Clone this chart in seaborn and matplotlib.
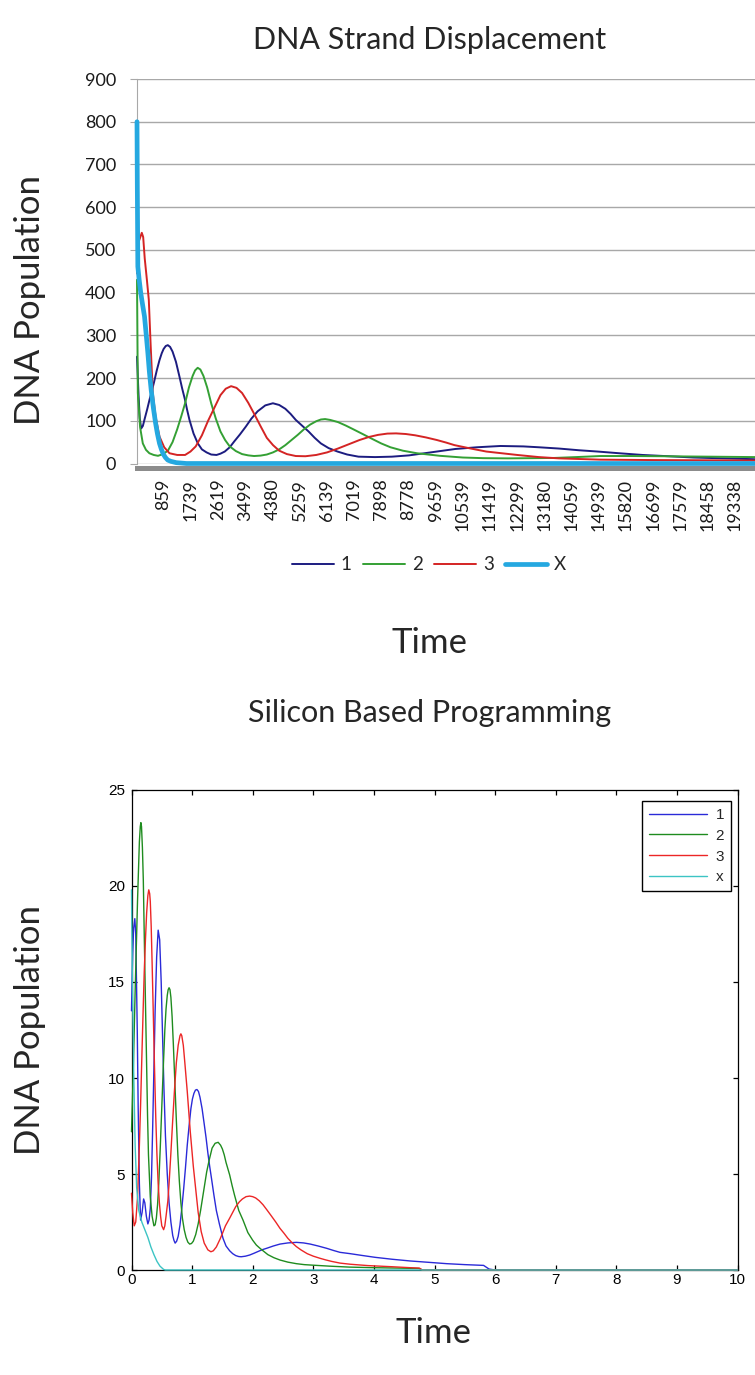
import matplotlib
matplotlib.use("Agg")
import matplotlib.pyplot as plt
import seaborn as sns

# ---------------- DNA strand displacement run (sampled populations) ----------------
dna_time_1 = [0, 50, 90, 136, 190, 250, 330, 404, 480, 550, 640, 728, 800, 860, 930, 997, 1070,
              1150, 1260, 1375, 1460, 1550, 1620, 1698, 1830, 1968, 2100, 2250, 2400, 2572,
              2700, 2840, 3000, 3150, 3330, 3517, 3700, 3900, 4150, 4397, 4600, 4800, 4970,
              5137, 5350, 5550, 5750, 5949, 6200, 6486, 6800, 7166, 7700, 8246, 8800, 9300,
              9800, 10300, 11000, 11760, 12500, 13000, 13653, 14300, 14900, 15600, 16353,
              17200, 18000, 19000, 20000]
dna_pop_1 = [250, 160, 105, 82, 88, 105, 127, 149, 170, 190, 218, 242, 258, 268, 275, 277, 273,
             262, 238, 203, 176, 150, 126, 102, 70, 47, 33, 26, 21, 20,
             23, 28, 38, 52, 68, 86, 105, 122, 136, 141, 137, 128, 116,
             102, 88, 75, 60, 47, 36, 28, 21, 16, 15, 16, 19, 24,
             29, 34, 38, 41, 40, 38, 35, 31, 28, 24, 20,
             17, 14, 12, 10]

dna_time_2 = [0, 27, 100, 188, 290, 400, 540, 680, 840, 1000, 1150, 1300, 1430, 1556, 1680,
              1800, 1880, 1963, 2050, 2150, 2270, 2400, 2550, 2700, 2850, 3000, 3200, 3400,
              3600, 3788, 4000, 4200, 4400, 4600, 4800, 5000, 5200, 5400, 5600, 5800, 5950,
              6085, 6250, 6500, 6750, 7000, 7300, 7570, 7900, 8200, 8600, 9058, 9800, 10543,
              11200, 12000, 12800, 13500, 14200, 14995, 16000, 17000, 18500, 20000]
dna_pop_2 = [430, 165, 85, 47, 32, 24, 20, 18, 22, 30, 50, 80, 110, 141, 178,
             205, 218, 224, 220, 205, 178, 141, 105, 75, 55, 40, 29, 22,
             19, 17.5, 18.5, 21, 26, 33, 43, 55, 67, 80, 91, 99, 103,
             104, 102, 97, 89, 80, 69, 59, 47, 38, 30, 24, 18, 14,
             12.5, 12, 12.5, 13, 15, 17.5, 17.5, 17, 16, 15]

dna_time_3 = [0, 60, 155, 200, 250, 320, 382, 440, 511, 600, 728, 880, 1051, 1300, 1556, 1730,
              1900, 2100, 2300, 2500, 2700, 2870, 3044, 3220, 3400, 3600, 3800, 4000, 4200,
              4400, 4600, 4850, 5137, 5450, 5800, 6150, 6500, 6850, 7200, 7500, 7800, 8100,
              8382, 8700, 9000, 9350, 9700, 10000, 10271, 10800, 11300, 11800, 12300, 13000,
              13652, 15000, 16760, 18500, 20000]
dna_pop_3 = [445, 520, 540, 530, 480, 430, 383, 280, 165, 110, 63, 38, 24, 20, 20, 28,
             40, 66, 100, 130, 160, 175, 181, 177, 165, 142, 115, 87, 60,
             43, 30, 22, 17.5, 17, 20, 26, 35, 45, 55, 62, 67, 70,
             70.5, 69, 66, 61, 55, 49, 43, 35, 28, 24, 20, 15,
             12, 9, 8, 7.5, 7]

dna_time_x = [0, 10, 27, 70, 120, 180, 243, 300, 350, 400, 459, 530, 600, 660, 728, 790, 850,
              920, 996, 1100, 1268, 1600, 2500, 20000]
dna_pop_x = [800, 650, 461, 430, 400, 372, 344, 300, 260, 215, 172, 130, 95, 70, 47, 33, 22,
             14, 8, 5, 2, 0, 0, 0]

dna_xticks = [859, 1739, 2619, 3499, 4380, 5259, 6139, 7019, 7898, 8778, 9659, 10539,
              11419, 12299, 13180, 14059, 14939, 15820, 16699, 17579, 18458, 19338]
dna_yticks = [0, 100, 200, 300, 400, 500, 600, 700, 800, 900]
dna_names = ["1", "2", "3", "X"]

# ---------------- silicon-based program run (sampled populations) ----------------
sil_time_1 = [0, 0.01, 0.02, 0.035, 0.055, 0.07, 0.08, 0.095, 0.11, 0.13, 0.15, 0.175, 0.2,
              0.22, 0.245, 0.27, 0.29, 0.31, 0.33, 0.35, 0.37, 0.39, 0.415, 0.44, 0.465, 0.49,
              0.51, 0.535, 0.56, 0.59, 0.62, 0.65, 0.68, 0.7, 0.72, 0.745, 0.77, 0.8, 0.83,
              0.86, 0.89, 0.92, 0.95, 0.98, 1.005, 1.03, 1.055, 1.08, 1.105, 1.13, 1.165, 1.2,
              1.23, 1.26, 1.29, 1.32, 1.36, 1.4, 1.45, 1.51, 1.56, 1.62, 1.67, 1.72, 1.77,
              1.81, 1.88, 1.95, 2.02, 2.1, 2.16, 2.23, 2.34, 2.45, 2.58, 2.72, 2.84, 2.95,
              3.08, 3.22, 3.33, 3.44, 3.61, 3.8, 4.02, 4.3, 4.6, 4.99, 5.2, 5.5, 5.81, 5.9,
              6.0, 10.0]
sil_pop_1 = [13.5, 15.2, 16.5, 17.8, 18.3, 17.5, 15.5, 12.5, 8.5, 4.5, 2.6, 3.0, 3.7,
             3.5, 2.8, 2.4, 2.6, 3.2, 4.8, 7.5, 10.5, 13.5, 16.3, 17.7, 17.2, 15.0,
             12.5, 9.5, 7.0, 5.0, 3.5, 2.5, 1.8, 1.55, 1.4, 1.5, 1.75, 2.34, 3.2,
             4.2, 5.3, 6.5, 7.5, 8.4, 8.9, 9.2, 9.37, 9.4, 9.3, 9.0, 8.4, 7.6,
             6.9, 6.1, 5.4, 4.77, 3.9, 3.1, 2.4, 1.65, 1.25, 1.0, 0.85, 0.75, 0.7,
             0.69, 0.72, 0.78, 0.87, 0.98, 1.06, 1.13, 1.25, 1.35, 1.41, 1.44, 1.41, 1.35,
             1.25, 1.13, 1.02, 0.92, 0.85, 0.76, 0.66, 0.56, 0.47, 0.38, 0.33, 0.28, 0.24, 0.05,
             0.0, 0.0]

sil_time_2 = [0, 0.03, 0.06, 0.1, 0.13, 0.145, 0.155, 0.165, 0.18, 0.195, 0.21, 0.23, 0.25,
              0.265, 0.28, 0.31, 0.34, 0.37, 0.39, 0.41, 0.43, 0.45, 0.475, 0.5, 0.525, 0.55,
              0.57, 0.59, 0.605, 0.62, 0.635, 0.65, 0.67, 0.69, 0.715, 0.74, 0.765, 0.79,
              0.815, 0.84, 0.87, 0.9, 0.93, 0.96, 0.99, 1.02, 1.06, 1.1, 1.14, 1.18, 1.21,
              1.24, 1.28, 1.33, 1.38, 1.43, 1.47, 1.5, 1.53, 1.56, 1.62, 1.66, 1.7, 1.77,
              1.84, 1.92, 2.0, 2.06, 2.12, 2.25, 2.35, 2.45, 2.58, 2.72, 2.85, 3.0, 3.27,
              3.6, 4.0, 4.4, 4.74, 4.8, 10.0]
sil_pop_2 = [7.2, 10.5, 14.5, 19.3, 22.3, 23.1, 23.3, 23.1, 22.0, 20.3, 17.5, 14.0, 10.6,
             8.0, 6.0, 3.8, 2.8, 2.3, 2.35, 2.7, 3.4, 4.5, 6.4, 8.5, 10.6, 12.5,
             13.6, 14.3, 14.6, 14.7, 14.6, 14.2, 13.2, 11.8, 9.8, 7.8, 6.0, 4.6,
             3.5, 2.7, 2.1, 1.7, 1.45, 1.35, 1.38, 1.5, 1.85, 2.4, 3.1, 3.9, 4.5,
             5.1, 5.7, 6.35, 6.6, 6.65, 6.5, 6.3, 6.0, 5.6, 4.95, 4.4, 3.9, 3.1,
             2.6, 1.95, 1.55, 1.3, 1.13, 0.8, 0.64, 0.52, 0.41, 0.33, 0.28, 0.25, 0.2,
             0.15, 0.12, 0.1, 0.08, 0.0, 0.0]

sil_time_3 = [0, 0.02, 0.045, 0.07, 0.1, 0.13, 0.15, 0.17, 0.19, 0.21, 0.23, 0.25, 0.27,
              0.285, 0.3, 0.31, 0.325, 0.34, 0.36, 0.38, 0.4, 0.42, 0.44, 0.46, 0.48, 0.5,
              0.53, 0.55, 0.57, 0.6, 0.62, 0.65, 0.68, 0.71, 0.74, 0.77, 0.8, 0.815, 0.83,
              0.855, 0.88, 0.92, 0.97, 1.02, 1.07, 1.1, 1.15, 1.2, 1.26, 1.31, 1.35, 1.4,
              1.46, 1.5, 1.55, 1.62, 1.67, 1.72, 1.78, 1.83, 1.89, 1.95, 2.0, 2.05, 2.11,
              2.17, 2.23, 2.3, 2.38, 2.45, 2.52, 2.58, 2.65, 2.72, 2.8, 2.9, 3.0, 3.11, 3.2,
              3.3, 3.44, 3.61, 3.9, 4.3, 4.6, 4.75, 4.8, 10.0]
sil_pop_3 = [4.0, 3.0, 2.3, 2.5, 3.8, 6.5, 8.6, 11.0, 13.3, 15.5, 17.2, 18.6, 19.5,
             19.8, 19.6, 19.2, 17.9, 16.0, 13.3, 10.5, 8.0, 6.0, 4.5, 3.5, 2.8, 2.3,
             2.1, 2.3, 2.8, 3.6, 4.5, 6.1, 7.8, 9.4, 10.8, 11.7, 12.2, 12.3, 12.2,
             11.7, 10.8, 9.3, 7.2, 5.4, 3.9, 3.0, 2.0, 1.4, 1.05, 0.95, 1.0, 1.2,
             1.6, 1.9, 2.3, 2.7, 3.0, 3.3, 3.55, 3.7, 3.82, 3.85, 3.82, 3.75, 3.6,
             3.4, 3.15, 2.85, 2.5, 2.17, 1.9, 1.65, 1.42, 1.22, 1.04, 0.85, 0.72, 0.61, 0.53,
             0.45, 0.36, 0.3, 0.23, 0.17, 0.12, 0.1, 0.0, 0.0]

sil_time_x = [0, 0.005, 0.015, 0.035, 0.06, 0.085, 0.12, 0.17, 0.22, 0.27, 0.32,
              0.37, 0.42, 0.47, 0.53, 0.56, 10.0]
sil_pop_x = [19.8, 18.0, 15.0, 10.5, 6.5, 4.3, 3.1, 2.5, 2.1, 1.7, 1.2,
             0.8, 0.45, 0.2, 0.03, 0.0, 0.0]

sil_xticks = [0, 1, 2, 3, 4, 5, 6, 7, 8, 9, 10]
sil_yticks = [0, 5, 10, 15, 20, 25]
sil_names = ["1", "2", "3", "x"]

# ---------------- styling ----------------
sns.set_style("white")
plt.rcParams["font.family"] = ["Lato", "DejaVu Sans"]
NARROW = ["Liberation Sans Narrow", "Liberation Sans", "DejaVu Sans"]

W, H = 755, 1375
fig = plt.figure(figsize=(W / 100, H / 100), dpi=100)

# ================= top panel: Excel-style line chart =================
ax1 = fig.add_axes([137 / W, 1 - 463.5 / H, (W - 137) / W, (463.5 - 79) / H])

dna_series = [
    (dna_names[0], dna_time_1, dna_pop_1, "#1c1c80", 1.4),
    (dna_names[1], dna_time_2, dna_pop_2, "#34a034", 1.4),
    (dna_names[2], dna_time_3, dna_pop_3, "#d42424", 1.4),
    (dna_names[3], dna_time_x, dna_pop_x, "#25a8e0", 3.4),
]
for name, t, v, col, lw in dna_series:
    sns.lineplot(x=t, y=v, ax=ax1, color=col, linewidth=lw, label=name,
                 estimator=None, sort=False, zorder=3, clip_on=False)

ax1.set_xlim(0, 19994)
ax1.set_ylim(0, 900)
ax1.set_yticks(dna_yticks)
ax1.set_xticks(dna_xticks)
ax1.set_xticklabels([str(v) for v in dna_xticks])
ax1.grid(axis="y", color="#a8a8a8", linewidth=1.0)
ax1.grid(axis="x", visible=False)
ax1.tick_params(axis="y", left=True, length=5.4, width=0.8, color="#a8a8a8",
                pad=9.5, labelsize=13, labelcolor="#1a1a1a")
ax1.tick_params(axis="x", bottom=True, length=0, pad=8, labelsize=13,
                labelcolor="#1a1a1a", labelrotation=90)
for s in ("top", "right"):
    ax1.spines[s].set_visible(False)
ax1.spines["left"].set_color("#a8a8a8")
ax1.spines["left"].set_linewidth(0.8)
ax1.spines["bottom"].set_color("#8c8c8c")
ax1.spines["bottom"].set_linewidth(3.6)
ax1.spines["bottom"].set_position(("outward", 2.9))

ax1.set_title("DNA Strand Displacement", x=(430 - 137) / 618, y=(463.5 - 40) / 384.5,
              va="center", pad=0, fontsize=22)
ax1.set_xlabel("Time", fontsize=25)
ax1.xaxis.set_label_coords((430 - 137) / 618, (463.5 - 643) / 384.5)
ax1.xaxis.label.set_va("center")
ax1.set_ylabel("DNA Population", fontsize=25)
ax1.yaxis.set_label_coords((30 - 137) / 618, (463.5 - 300) / 384.5)
ax1.yaxis.label.set_va("center")

h1, l1 = ax1.get_legend_handles_labels()
if ax1.get_legend() is not None:
    ax1.get_legend().remove()
fig.legend(h1, l1, loc="center", bbox_to_anchor=(429 / W, 1 - 565 / H), ncol=4,
           frameon=False, fontsize=13.5, handlelength=2.25, handletextpad=0.35,
           columnspacing=0.6)

# ================= bottom panel: MATLAB-style plot =================
ax2 = fig.add_axes([131.5 / W, 1 - 1270 / H, 606 / W, 480 / H])

sil_series = [
    (sil_names[0], sil_time_1, sil_pop_1, "#2a2ad8"),
    (sil_names[1], sil_time_2, sil_pop_2, "#1f8c1f"),
    (sil_names[2], sil_time_3, sil_pop_3, "#ec2626"),
    (sil_names[3], sil_time_x, sil_pop_x, "#3cc4c4"),
]
for name, t, v, col in sil_series:
    sns.lineplot(x=t, y=v, ax=ax2, color=col, linewidth=1.0, label=name,
                 estimator=None, sort=False, zorder=3, clip_on=False)

ax2.set_xlim(0, 10)
ax2.set_ylim(0, 25)
ax2.set_xticks(sil_xticks)
ax2.set_yticks(sil_yticks)
ax2.grid(False)
ax2.tick_params(axis="both", direction="in", length=3.6, width=0.9, color="black",
                top=True, right=True, bottom=True, left=True, labelsize=11,
                labelcolor="black")
ax2.tick_params(axis="x", pad=2)
ax2.tick_params(axis="y", pad=4.7)
for lab in ax2.get_xticklabels() + ax2.get_yticklabels():
    lab.set_family(NARROW)
for s in ax2.spines.values():
    s.set_color("black")
    s.set_linewidth(0.9)

ax2.set_title("Silicon Based Programming", x=(430 - 131.5) / 606, y=(1270 - 713) / 480,
              va="center", pad=0, fontsize=22)
ax2.set_xlabel("Time", fontsize=25)
ax2.xaxis.set_label_coords((433 - 131.5) / 606, (1270 - 1333) / 480)
ax2.xaxis.label.set_va("center")
ax2.set_ylabel("DNA Population", fontsize=25)
ax2.yaxis.set_label_coords((30 - 131.5) / 606, (1270 - 1030) / 480)
ax2.yaxis.label.set_va("center")

h2, l2 = ax2.get_legend_handles_labels()
if ax2.get_legend() is not None:
    ax2.get_legend().remove()
leg2 = ax2.legend(h2, l2, loc="upper right", bbox_to_anchor=(1 - 6.5 / 606, 1 - 11 / 480),
                  borderaxespad=0, frameon=True, fancybox=False, framealpha=1,
                  edgecolor="black", prop={"family": NARROW, "size": 11},
                  handlelength=3.8, handletextpad=0.55, labelspacing=0.45, borderpad=0.45)
leg2.get_frame().set_linewidth(1.0)

fig.savefig("out.png", dpi=100, facecolor="white")
